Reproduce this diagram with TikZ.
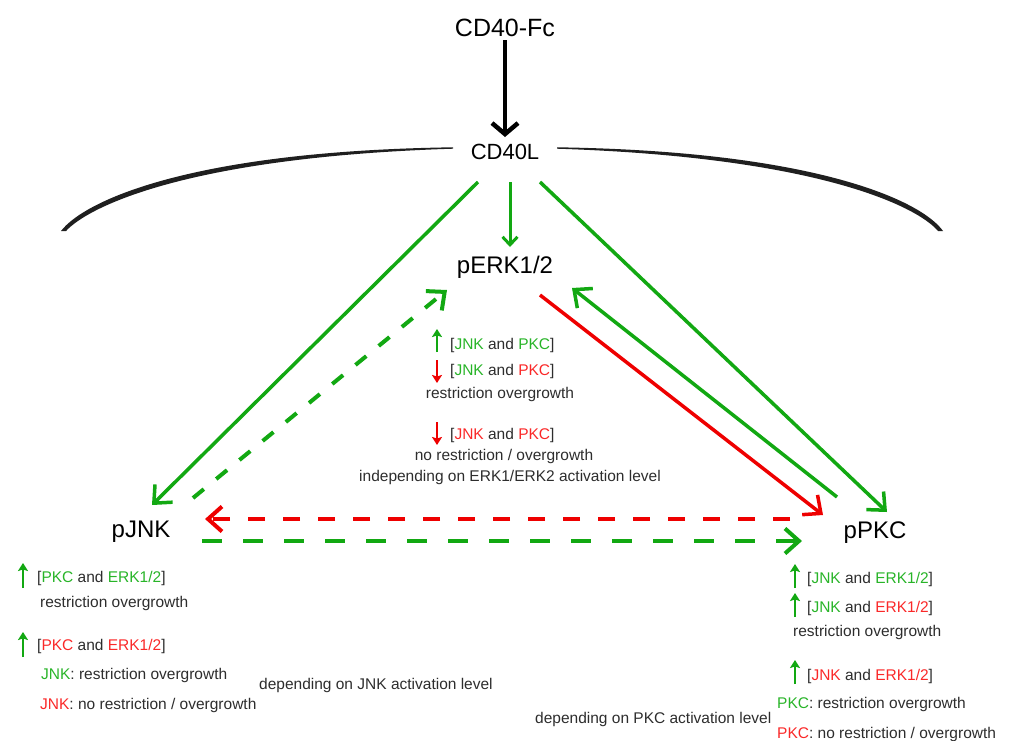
\documentclass[tikz,border=0pt]{standalone}
\usepackage{fontspec}
\setmainfont{Liberation Sans}
\usetikzlibrary{arrows.meta}
\definecolor{lgreen}{RGB}{18,168,18}
\definecolor{lred}{RGB}{238,0,0}
\definecolor{tgreen}{RGB}{40,180,40}
\definecolor{tred}{RGB}{250,40,40}
\definecolor{tgray}{RGB}{45,45,45}
\newcommand{\G}[1]{{\color{tgreen}#1}}
\newcommand{\R}[1]{{\color{tred}#1}}
\begin{document}
\begin{tikzpicture}[x=1pt,y=-1pt,
  big/.style={font=\fontsize{24}{28}\selectfont, inner sep=0pt},
  small/.style={font=\fontsize{15.5}{18}\selectfont, text=tgray, inner sep=0pt, anchor=base west},
  smallc/.style={small, anchor=base},
  barb/.style={-{Straight Barb[length=14pt,width=25pt]}},
  gsolid/.style={draw=lgreen, line width=3.5pt, barb},
  rsolid/.style={draw=lred, line width=3.5pt, barb},
  gdash/.style={draw=lgreen, line width=4pt, barb, dash pattern=on 20pt off 21pt},
  rdash/.style={draw=lred, line width=4pt, barb, dash pattern=on 17pt off 18pt},
  gdiag/.style={draw=lgreen, line width=4pt, barb, dash pattern=on 14pt off 16pt},
  upg/.style={draw=lgreen, line width=2.5pt, -{Stealth[length=8pt,width=10pt,inset=1.5pt]}},
  dnr/.style={draw=lred, line width=2.5pt, -{Stealth[length=8pt,width=10pt,inset=1.5pt]}},
  membrane/.style={fill=black!88}
]
\useasboundingbox (0,0) rectangle (1010,740);

% membrane
\fill[membrane] (453,147.3) .. controls (190,151) and (84,201) .. (61,231)
  -- (66,231) .. controls (89,206) and (190,157) .. (453,148.7) -- cycle;
\begin{scope}[shift={(1006,0)}, xscale=-1]
\fill[membrane] (449,147.3) .. controls (190,151) and (84,201) .. (63,231)
  -- (68,231) .. controls (89,206) and (190,157) .. (449,148.7) -- cycle;
\end{scope}

% main nodes
\node[big, font=\fontsize{25}{29}\selectfont] (CD40Fc) at (505,28) {CD40-Fc};
\node[big, font=\fontsize{22}{26}\selectfont] (CD40L) at (505,152) {CD40L};
\node[big] (pERK) at (505,267) {pERK1/2};
\node[big] (pJNK) at (141,532) {pJNK};
\node[big] (pPKC) at (875,533) {pPKC};

% endpoints
\coordinate (Lfrom) at (478,182);
\coordinate (Lto) at (152,505);
\coordinate (Rfrom) at (540,182);
\coordinate (Rto) at (887,512);
\coordinate (Mfrom) at (510,182);
\coordinate (Mto) at (510,247);
\coordinate (jeFrom) at (193,498);
\coordinate (jeTo) at (447,290);
\coordinate (epFrom) at (540,295);
\coordinate (epTo) at (823,515);
\coordinate (peFrom) at (837,497);
\coordinate (peTo) at (572,288);
\coordinate (pjFrom) at (790,519);
\coordinate (pjTo) at (205,519);
\coordinate (jpFrom) at (202,541);
\coordinate (jpTo) at (802,541);
\coordinate (FcFrom) at (505,40);
\coordinate (Lin) at (505,137);

% connectors
\draw[line width=4.5pt, -{Straight Barb[length=11pt,width=26pt]}] (FcFrom) -- (Lin);
\draw[gsolid] (Lfrom) -- (Lto);
\draw[gsolid] (Rfrom) -- (Rto);
\draw[draw=lgreen, line width=3pt, -{Straight Barb[length=8pt,width=15pt]}] (Mfrom) -- (Mto);
\draw[gdiag] (jeFrom) -- (jeTo);
\draw[rsolid] (epFrom) -- (epTo);
\draw[gsolid] (peFrom) -- (peTo);
\draw[rdash] (pjFrom) -- (pjTo);
\draw[gdash] (jpFrom) -- (jpTo);

% middle texts
\draw[upg] (437,352) -- (437,329);
\node[small] (m1) at (450,349) {[\G{JNK} and \G{PKC}]};
\draw[dnr] (437,360) -- (437,383);
\node[small] (m2) at (450,375) {[\G{JNK} and \R{PKC}]};
\node[smallc] (m3) at (500,398) {restriction overgrowth};
\draw[dnr] (437,422) -- (437,445);
\node[small] (m4) at (450,439) {[\R{JNK} and \R{PKC}]};
\node[smallc] (m5) at (504,460) {no restriction / overgrowth};
\node[smallc] (m6) at (510,481) {independing on ERK1/ERK2 activation level};

% left texts
\draw[upg] (23,588) -- (23,563);
\node[small] (l1) at (37,582) {[\G{PKC} and \G{ERK1/2}]};
\node[small] (l2) at (40,607) {restriction overgrowth};
\draw[upg] (23,657) -- (23,632);
\node[small] (l3) at (37,650) {[\R{PKC} and \R{ERK1/2}]};
\node[small] (l4) at (41,679) {\G{JNK}: restriction overgrowth};
\node[small] (l5) at (40,709) {\R{JNK}: no restriction / overgrowth};
\node[small] (l6) at (259,689) {depending on JNK activation level};

% right texts
\draw[upg] (795,588) -- (795,564);
\node[small] (r1) at (807,583) {[\G{JNK} and \G{ERK1/2}]};
\draw[upg] (795,617) -- (795,593);
\node[small] (r2) at (807,612) {[\G{JNK} and \R{ERK1/2}]};
\node[small] (r3) at (793,636) {restriction overgrowth};
\draw[upg] (795,684) -- (795,660);
\node[small] (r4) at (807,680) {[\R{JNK} and \R{ERK1/2}]};
\node[small] (r5) at (777,708) {\G{PKC}: restriction overgrowth};
\node[small] (r6) at (777,738) {\R{PKC}: no restriction / overgrowth};
\node[small] (r7) at (535,723) {depending on PKC activation level};
\end{tikzpicture}
\end{document}
